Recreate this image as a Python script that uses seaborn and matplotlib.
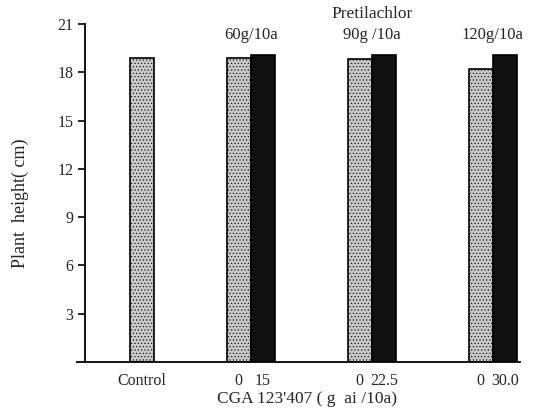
import matplotlib
matplotlib.use('Agg')
import matplotlib.pyplot as plt
import seaborn as sns
import pandas as pd

# values
groups = ['Control', '60g/10a', '90g /10a', '120g/10a']
cga_labels = [['Control'], ['0', '15'], ['0', '22.5'], ['0', '30.0']]
gray_heights = [18.9, 18.9, 18.8, 18.2]
black_heights = [None, 19.1, 19.1, 19.1]

sns.set_theme(style='ticks')
plt.rcParams['font.family'] = ['Liberation Serif', 'DejaVu Serif']
plt.rcParams['hatch.linewidth'] = 0.4

# layout: bar slots (one slot per bar width)
group_slots = [0, 4, 9, 14]

rows = []
tick_pos, tick_lab = [], []
for i, g in enumerate(groups):
    s = group_slots[i]
    rows.append({'slot': s, 'height': gray_heights[i], 'kind': 'gray'})
    tick_pos.append(s)
    tick_lab.append(cga_labels[i][0])
    if black_heights[i] is not None:
        rows.append({'slot': s + 1, 'height': black_heights[i], 'kind': 'black'})
        tick_pos.append(s + 1)
        tick_lab.append(cga_labels[i][1])
df = pd.DataFrame(rows)

fig = plt.figure(figsize=(5.49, 4.15), dpi=100)
ax = fig.add_axes([77 / 549, 1 - 362 / 415, (520 - 77) / 549, (362 - 24) / 415])

sns.barplot(data=df, x='slot', y='height', hue='kind', native_scale=True,
            palette={'gray': '#c8c8c8', 'black': '#111111'}, dodge=False,
            width=1, edgecolor='black', linewidth=1.2, legend=False, ax=ax)
# stipple on the gray bars
for p in ax.patches:
    if p.get_facecolor()[0] > 0.5:
        p.set_hatch('.....')

ppu = 24.2
ax.set_xlim((77 - 142) / ppu, (520 - 142) / ppu)
ax.spines['left'].set_position(('data', (85 - 142) / ppu))
ax.set_ylim(0, 21)
ax.set_yticks(range(3, 22, 3))
ax.set_xticks(tick_pos)
ax.set_xticklabels(tick_lab)
ax.tick_params(axis='x', length=0, pad=8, labelsize=11.5)
ax.tick_params(axis='y', length=5, width=1.2, direction='out', labelsize=11.5, color='black')
sns.despine(ax=ax)
for sp in ['left', 'bottom']:
    ax.spines[sp].set_linewidth(1.3)
    ax.spines[sp].set_color('black')

for i, g in enumerate(groups[1:], start=1):
    ax.text(group_slots[i] + 0.5, 20.3, g, ha='center', va='center', fontsize=12)
ax.text(group_slots[2] + 0.5, 21.6, 'Pretilachlor', ha='center', va='center',
        fontsize=12.5, clip_on=False)

ax.set_xlabel("CGA 123'407 ( g  ai /10a)", fontsize=12.5)
ax.set_ylabel('Plant  height( cm)', fontsize=13)
ax.xaxis.set_label_coords((307 - 77) / 443, -(399 - 362) / 338)
ax.yaxis.set_label_coords((20 - 77) / 443, (362 - 203) / 338)
ax.xaxis.label.set_va('center')
ax.yaxis.label.set_va('center')

fig.savefig('out.png', dpi=100)
